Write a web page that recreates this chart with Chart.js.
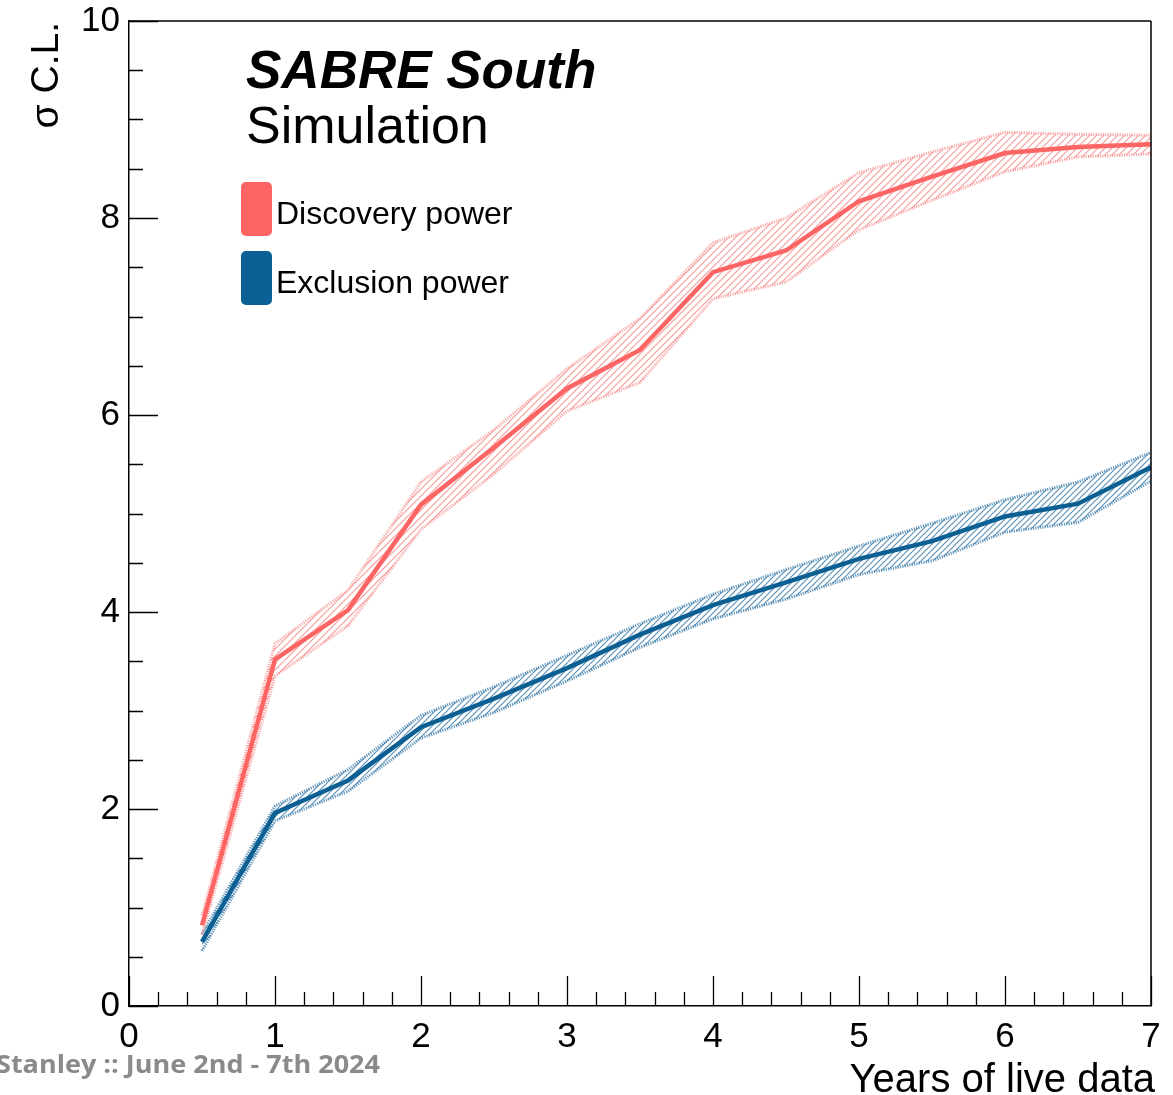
<!DOCTYPE html>
<html>
<head>
<meta charset="utf-8">
<title>SABRE South sensitivity</title>
<script src="https://cdn.jsdelivr.net/npm/chart.js@4.4.1/dist/chart.umd.min.js"></script>
<style>
  html, body { margin: 0; padding: 0; background: #ffffff; overflow: hidden; }
  canvas { display: block; }
</style>
</head>
<body>
<canvas id="chart" width="1173" height="1095"></canvas>
<script>
// Years of live data at which the sensitivity was evaluated
const years = [0.5, 1, 1.5, 2, 2.5, 3, 3.5, 4, 4.5, 5, 5.5, 6, 6.5, 7];

// Discovery power (sigma C.L.): median and band edges
const discoveryMid   = [0.82, 3.52, 4.02, 5.09, 5.67, 6.27, 6.66, 7.45, 7.67, 8.17, 8.42, 8.66, 8.72, 8.75];
const discoveryUpper = [0.92, 3.68, 4.22, 5.32, 5.85, 6.47, 6.98, 7.75, 8.00, 8.46, 8.67, 8.87, 8.85, 8.84];
const discoveryLower = [0.72, 3.35, 3.86, 4.84, 5.40, 6.04, 6.33, 7.18, 7.35, 7.88, 8.18, 8.47, 8.62, 8.65];

// Exclusion power (sigma C.L.): median and band edges
const exclusionMid   = [0.65, 1.96, 2.29, 2.83, 3.12, 3.43, 3.77, 4.07, 4.30, 4.54, 4.72, 4.97, 5.10, 5.47];
const exclusionUpper = [0.73, 2.03, 2.40, 2.95, 3.24, 3.56, 3.88, 4.18, 4.43, 4.67, 4.90, 5.14, 5.32, 5.62];
const exclusionLower = [0.56, 1.88, 2.18, 2.72, 2.98, 3.30, 3.64, 3.93, 4.13, 4.38, 4.52, 4.81, 4.91, 5.33];

const seriesNames = ['Discovery power', 'Exclusion power'];
const xTickValues = [0, 1, 2, 3, 4, 5, 6, 7];
const yTickValues = [0, 2, 4, 6, 8, 10];

const RED = '#fd6464';
const BLUE = '#0b5f93';
const FONT = '"Liberation Sans", Arial, Helvetica, sans-serif';

// Diagonal "///" hatch used to fill the uncertainty bands
function hatch(color, gap, width) {
  const c = document.createElement('canvas');
  c.width = gap; c.height = gap;
  const g = c.getContext('2d');
  g.strokeStyle = color;
  g.lineWidth = width;
  g.beginPath();
  g.moveTo(-1, gap + 1); g.lineTo(gap + 1, -1);
  g.moveTo(-1, 1); g.lineTo(1, -1);
  g.moveTo(gap - 1, gap + 1); g.lineTo(gap + 1, gap - 1);
  g.stroke();
  return g.createPattern(c, 'repeat');
}

const pts = ys => years.map((x, i) => ({ x, y: ys[i] }));

function bandEdge(data, color, pattern) {
  return {
    data: pts(data),
    borderColor: color,
    borderWidth: 3,
    borderDash: [1.2, 1.2],
    pointRadius: 0,
    tension: 0,
    backgroundColor: pattern,
    order: 2
  };
}

const datasets = [
  { label: seriesNames[0], data: pts(discoveryMid), borderColor: RED, borderWidth: 4.5,
    pointRadius: 0, tension: 0, fill: false, order: 0 },
  Object.assign(bandEdge(discoveryUpper, 'rgba(247,150,150,0.8)', hatch('rgba(246,135,135,0.85)', 7, 1.1)), { fill: '+1' }),
  Object.assign(bandEdge(discoveryLower, 'rgba(247,150,150,0.8)', null), { fill: false }),
  { label: seriesNames[1], data: pts(exclusionMid), borderColor: BLUE, borderWidth: 4.5,
    pointRadius: 0, tension: 0, fill: false, order: 0 },
  Object.assign(bandEdge(exclusionUpper, 'rgba(60,125,170,0.8)', hatch('rgba(45,115,165,0.8)', 6, 1.1)), { fill: '+1' }),
  Object.assign(bandEdge(exclusionLower, 'rgba(60,125,170,0.8)', null), { fill: false })
];

// Frame, inward tick marks, axis titles, labels and legend
const decorations = {
  id: 'decorations',
  afterDatasetsDraw(chart) {
    const { ctx, chartArea: a, scales: { x, y } } = chart;
    ctx.save();
    ctx.strokeStyle = '#000';
    ctx.lineWidth = 1.5;
    ctx.beginPath();
    ctx.moveTo(a.left, a.top); ctx.lineTo(a.right, a.top);
    ctx.moveTo(a.right, a.top); ctx.lineTo(a.right, a.bottom);
    ctx.stroke();

    ctx.lineWidth = 1.3;
    ctx.beginPath();
    for (let i = 0; i <= 35; i++) {
      const v = i * 0.2;
      const px = Math.round(x.getPixelForValue(v)) + 0.5;
      const len = i % 5 === 0 ? 30 : 14;
      ctx.moveTo(px, a.bottom); ctx.lineTo(px, a.bottom - len);
    }
    for (let i = 0; i <= 20; i++) {
      const v = i * 0.5;
      const py = Math.round(y.getPixelForValue(v)) + 0.5;
      const len = i % 4 === 0 ? 29 : 14;
      ctx.moveTo(a.left, py); ctx.lineTo(a.left + len, py);
    }
    ctx.stroke();

    ctx.fillStyle = '#000';
    // y-axis title
    ctx.save();
    ctx.translate(58, a.top + 1);
    ctx.rotate(-Math.PI / 2);
    ctx.font = '39px ' + FONT;
    ctx.textAlign = 'right';
    ctx.textBaseline = 'alphabetic';
    ctx.fillText('\u03c3 C.L.', 0, 0);
    ctx.restore();

    // x-axis title
    ctx.font = '40px ' + FONT;
    ctx.textAlign = 'right';
    ctx.textBaseline = 'alphabetic';
    ctx.fillText('Years of live data', 1155, 1092);

    // Experiment label
    ctx.textAlign = 'left';
    ctx.font = 'italic bold 53px ' + FONT;
    ctx.fillText('SABRE South', 246, 88);
    ctx.font = '52px ' + FONT;
    ctx.fillText('Simulation', 246, 143);

    // Legend
    const colors = [RED, '#0b6195'];
    const boxTop = [182, 251];
    ctx.font = '32px ' + FONT;
    seriesNames.forEach((name, i) => {
      ctx.fillStyle = colors[i];
      ctx.beginPath();
      ctx.roundRect(241, boxTop[i], 31, 54, 5);
      ctx.fill();
      ctx.fillStyle = '#000';
      ctx.fillText(name, 276, boxTop[i] + 42);
    });

    // Footer line
    ctx.save();
    ctx.fillStyle = '#8a8a8a';
    ctx.font = 'bold 25px "Open Sans", sans-serif';
    const footer = 'Stanley :: June 2nd - 7th 2024';
    const w = ctx.measureText(footer).width;
    const sx = 384 / w;
    ctx.translate(380, 1073);
    ctx.scale(sx, 1);
    ctx.textAlign = 'right';
    ctx.fillText(footer, 0, 0);
    ctx.restore();

    ctx.restore();
  }
};

new Chart(document.getElementById('chart'), {
  type: 'line',
  data: { datasets },
  plugins: [decorations],
  options: {
    responsive: false,
    animation: false,
    devicePixelRatio: 1,
    layout: { padding: { top: 21, right: 22, left: 0, bottom: 0 } },
    plugins: {
      legend: { display: false },
      tooltip: { enabled: false },
      filler: { propagate: false }
    },
    scales: {
      x: {
        type: 'linear',
        min: 0, max: 7,
        afterFit(s) { s.height = 89; s.paddingLeft = 0; s.paddingRight = 0; },
        afterBuildTicks(s) { s.ticks = xTickValues.map(v => ({ value: v })); },
        grid: { display: false, drawTicks: false },
        border: { display: true, color: '#000', width: 1.5 },
        ticks: { color: '#000', padding: 10, maxRotation: 0, autoSkip: false,
                 font: { family: FONT, size: 35 }, callback: v => String(v) }
      },
      y: {
        type: 'linear',
        min: 0, max: 10,
        afterFit(s) { s.width = 129; s.paddingTop = 0; s.paddingBottom = 0; },
        afterBuildTicks(s) { s.ticks = yTickValues.map(v => ({ value: v })); },
        grid: { display: false, drawTicks: false },
        border: { display: true, color: '#000', width: 1.5 },
        ticks: { color: '#000', padding: 9, autoSkip: false,
                 font: { family: FONT, size: 35 }, callback: v => String(v) }
      }
    }
  }
});
</script>
</body>
</html>
